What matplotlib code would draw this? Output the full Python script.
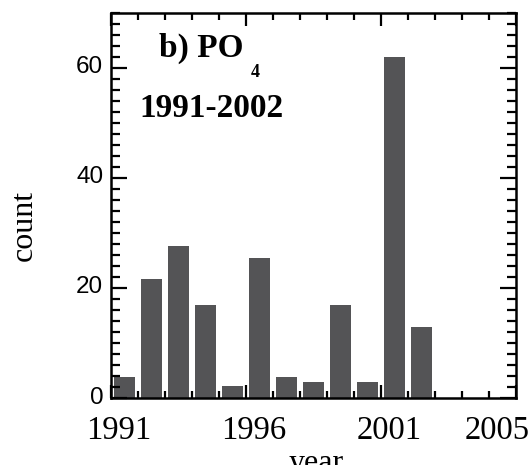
import numpy as np
import matplotlib
matplotlib.use("Agg")
import matplotlib.pyplot as plt
from matplotlib.ticker import MultipleLocator
from matplotlib.transforms import ScaledTranslation

# Yearly PO4 sample counts
years = [1991, 1992, 1993, 1994, 1995, 1996, 1997, 1998, 1999, 2000, 2001, 2002]
counts = [3.9, 21.6, 27.7, 16.9, 2.2, 25.5, 3.9, 2.9, 16.9, 2.9, 62.0, 12.9]

x_major = [1991, 1996, 2001, 2006]
x_major_labels = ["1991", "1996", "2001", ""]
x_minor = list(range(1991, 2007))
x_minor_labels = ["2005" if y == 2005 else "" for y in x_minor]
y_major = [0, 20, 40, 60]
y_major_labels = ["0", "20", "40", "60"]

W, H = 531, 465
fig = plt.figure(figsize=(W / 100, H / 100), dpi=100)
left, right, bottom, top = 111, 516, 398, 12.7
ax = fig.add_axes([left / W, 1 - bottom / H, (right - left) / W, (bottom - top) / H])

ax.bar(np.array(years) + 0.5, counts, width=0.8, color="#545456", zorder=1)

ax.set_xlim(1991, 2006)
ax.set_ylim(0, 70)

for s in ax.spines.values():
    s.set_linewidth(1.8)
    s.set_zorder(3)

ax.set_xticks(x_major, x_major_labels)
ax.set_xticks(x_minor, x_minor_labels, minor=True)
ax.set_yticks(y_major, y_major_labels)
ax.yaxis.set_minor_locator(MultipleLocator(2))

ax.tick_params(axis="both", which="both", direction="in", top=True, right=True,
               width=1.6, color="black")
ax.tick_params(axis="x", which="major", length=9.4, pad=12.5)
ax.tick_params(axis="x", which="minor", length=4.7, pad=12.5)
ax.tick_params(axis="y", which="major", length=11.5, pad=5.5)
ax.tick_params(axis="y", which="minor", length=6.8)

xshift = ScaledTranslation(8 / 100, 0, fig.dpi_scale_trans)
for lab in ax.get_xticklabels(which="both"):
    lab.set_fontfamily("Liberation Serif")
    lab.set_fontsize(23.5)
    lab.set_transform(lab.get_transform() + xshift)
yshift = ScaledTranslation(0, 3 / 100, fig.dpi_scale_trans)
for lab in ax.get_yticklabels():
    lab.set_fontfamily("Liberation Sans")
    lab.set_fontsize(17.5)
    lab.set_transform(lab.get_transform() + yshift)

# Axis titles
fig.text(32 / W, 1 - 225 / H, "count", rotation=90, rotation_mode="anchor",
         ha="center", va="baseline", fontsize=23, family="Liberation Serif")
fig.text(316 / W, 1 - 471 / H, "year", ha="center", va="baseline",
         fontsize=23, family="Liberation Serif")

# Panel annotation
bold = dict(fontweight="bold", family="Liberation Serif")
fig.text(159 / W, 1 - 57 / H, "b) PO", ha="left", va="baseline", fontsize=24, **bold)
fig.text(251 / W, 1 - 77 / H, "4", ha="left", va="baseline", fontsize=13, **bold)
fig.text(139 / W, 1 - 117 / H, "1991-2002", ha="left", va="baseline", fontsize=24, **bold)

fig.savefig("out.png", dpi=100)
